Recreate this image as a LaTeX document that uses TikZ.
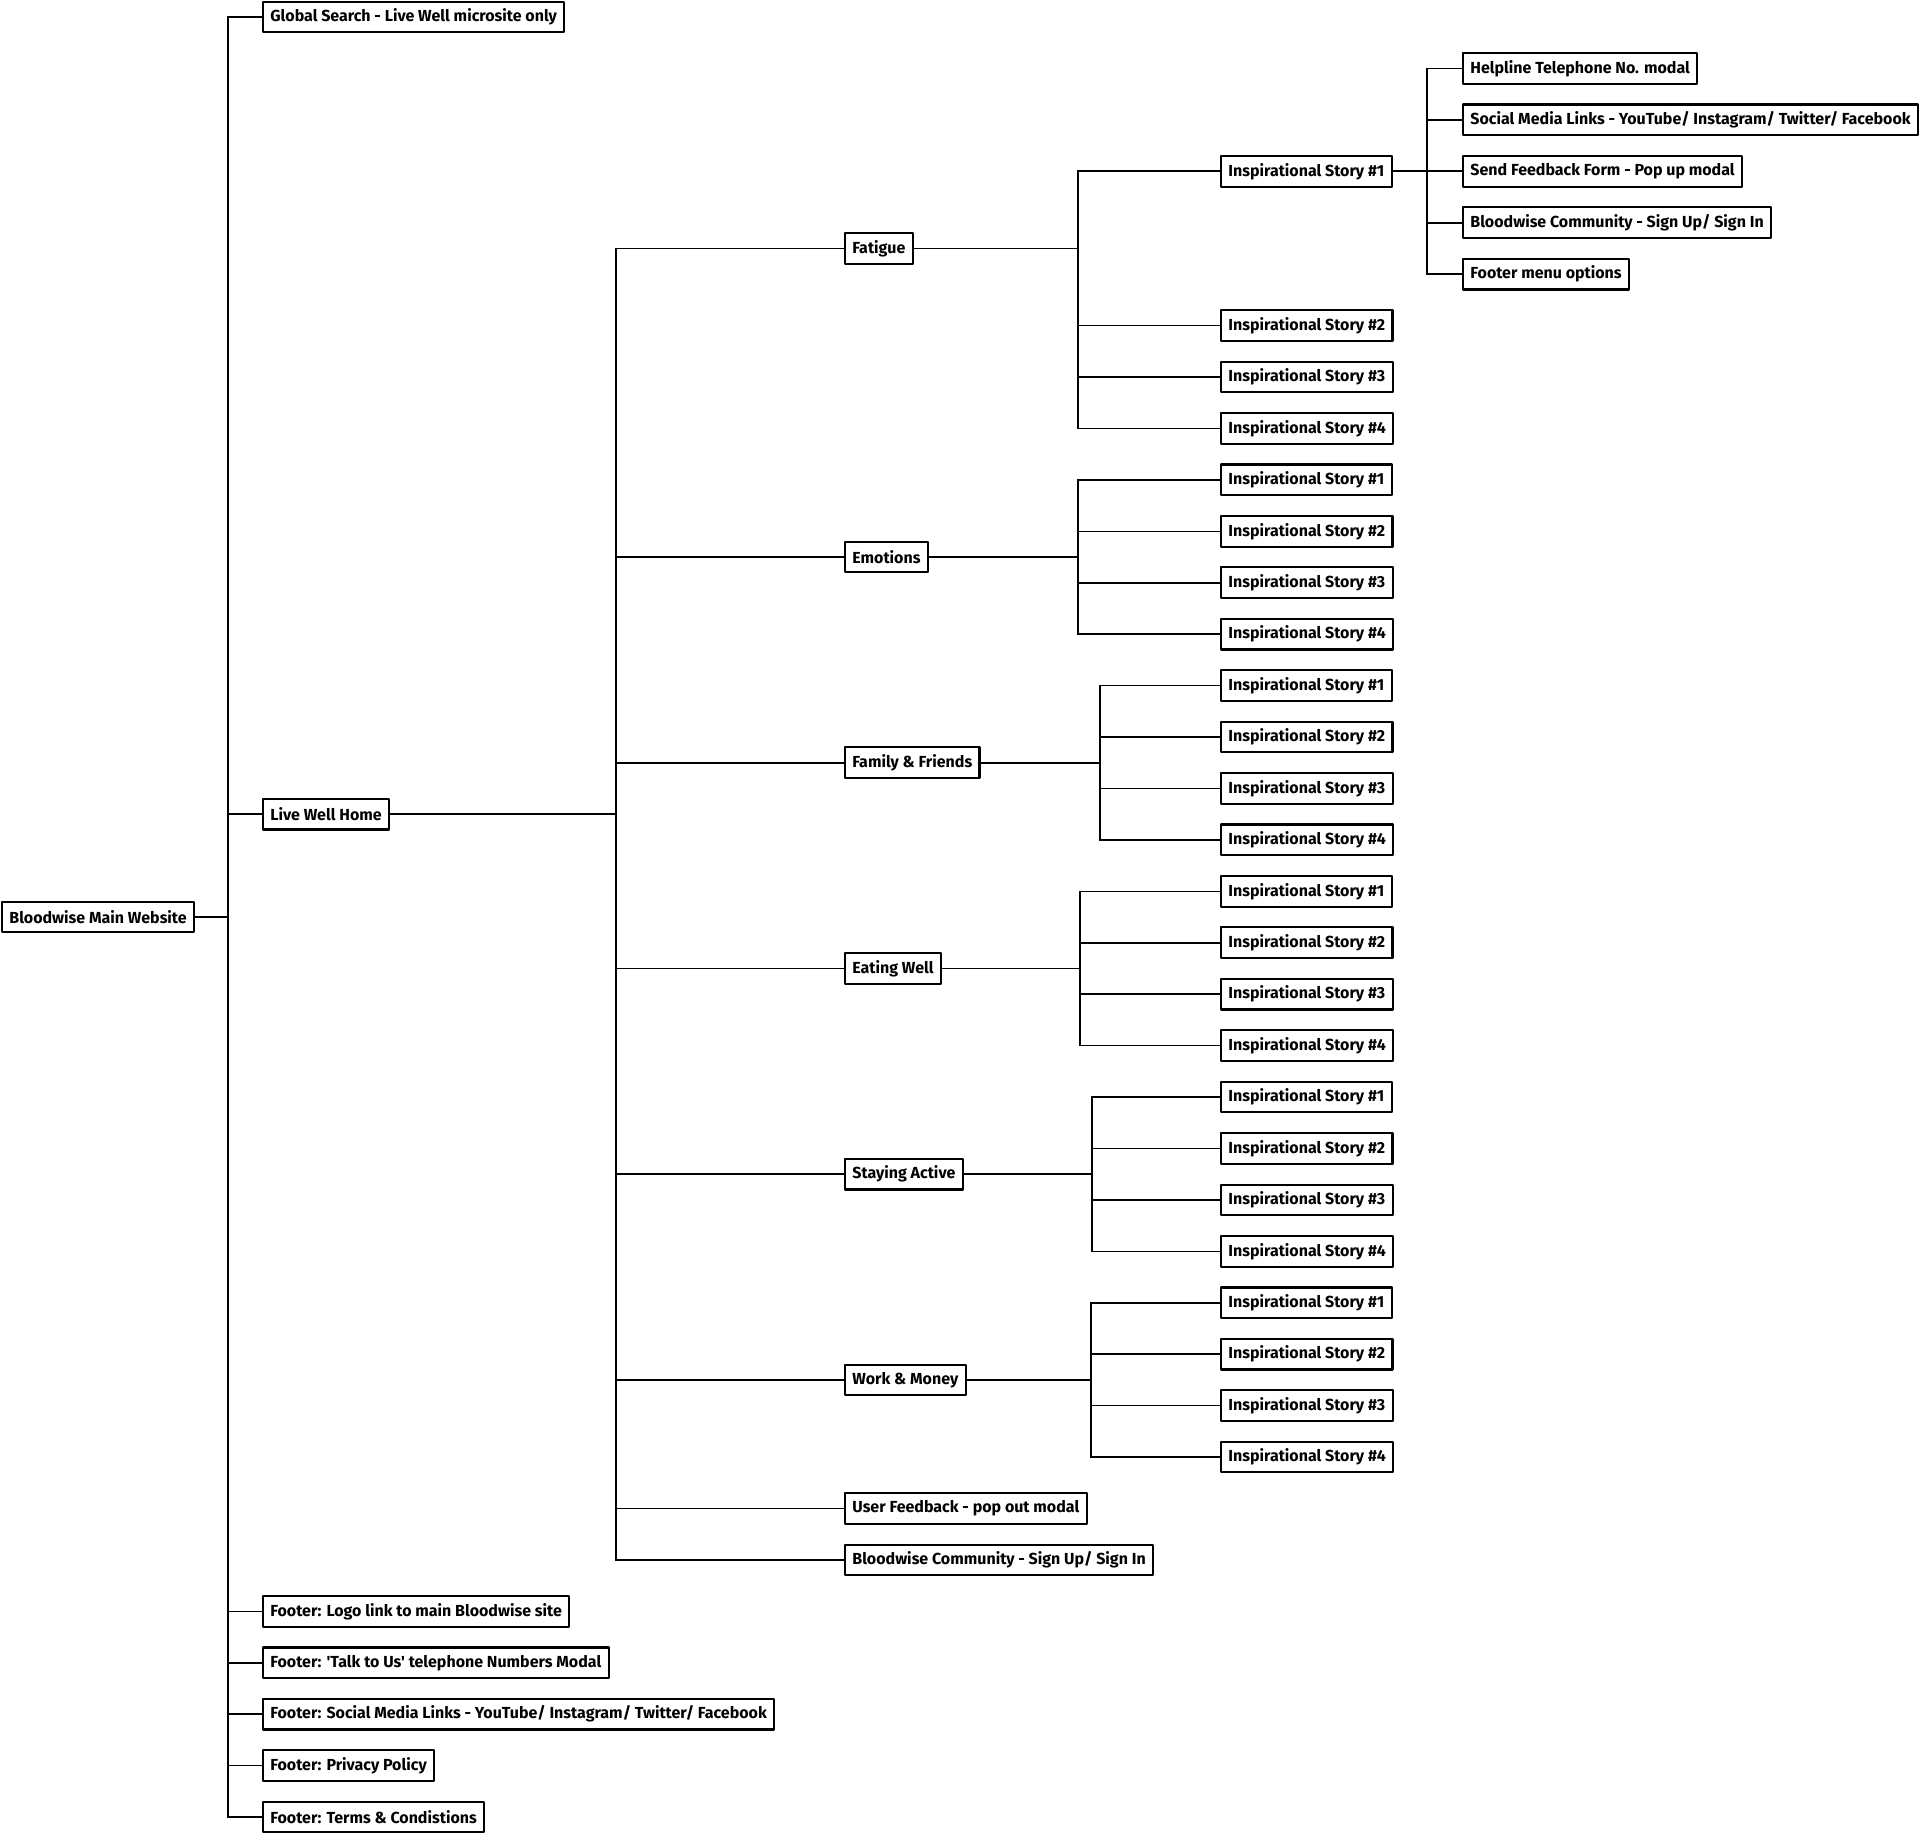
\documentclass[tikz,border=0pt]{standalone}
\usepackage{fontspec}
\setmainfont{Fira Sans}[Ligatures=TeXOff]
\usetikzlibrary{calc}
\def\rr#1{17+51.43*(#1)}
\begin{document}
\begin{tikzpicture}[x=0.75pt,y=-0.75pt,
  box/.style={draw, line width=1.6pt, anchor=west, minimum height=23pt, inner xsep=5.5pt, inner ysep=0pt, font=\fontsize{12}{14}\selectfont\bfseries, fill=white, line join=round},
  conn/.style={line width=1.2pt}]
\useasboundingbox (0,0) rectangle (1920,1836);
% root
\node[box, anchor=west] (root) at (1,{\rr{17.5}}) {Bloodwise Main Website};
% junction coordinates
\coordinate (j1) at (228,0);
\coordinate (j2) at (616,0);
\coordinate (jF) at (1078,0);
\coordinate (jE) at (1078,0);
\coordinate (jFF) at (1100,0);
\coordinate (jEW) at (1080,0);
\coordinate (jSA) at (1092,0);
\coordinate (jWM) at (1091,0);
\coordinate (jS1) at (1427,0);
% level 1
\node[box] (gs) at (262,{\rr{0}}) {Global Search - Live Well microsite only};
\node[box] (lwh) at (262,{\rr{15.5}}) {Live Well Home};
\node[box] (ft1) at (262,{\rr{31}}) {Footer: Logo link to main Bloodwise site};
\node[box] (ft2) at (262,{\rr{32}}) {Footer: 'Talk to Us' telephone Numbers Modal};
\node[box] (ft3) at (262,{\rr{33}}) {Footer: Social Media Links - YouTube/ Instagram/ Twitter/ Facebook};
\node[box] (ft4) at (262,{\rr{34}}) {Footer: Privacy Policy};
\node[box] (ft5) at (262,{\rr{35}}) {Footer: Terms \& Condistions};
% level 2
\node[box] (fat) at (844,{\rr{4.5}}) {Fatigue};
\node[box] (emo) at (844,{\rr{10.5}}) {Emotions};
\node[box] (fam) at (844,{\rr{14.5}}) {Family \& Friends};
\node[box] (eat) at (844,{\rr{18.5}}) {Eating Well};
\node[box] (sta) at (844,{\rr{22.5}}) {Staying Active};
\node[box] (wor) at (844,{\rr{26.5}}) {Work \& Money};
\node[box] (ufb) at (844,{\rr{29}}) {User Feedback - pop out modal};
\node[box] (bwc) at (844,{\rr{30}}) {Bloodwise Community - Sign Up/ Sign In};
% level 3
\node[box] (fat1) at (1220,{\rr{3}}) {Inspirational Story \#1};
\node[box] (fat2) at (1220,{\rr{6}}) {Inspirational Story \#2};
\node[box] (fat3) at (1220,{\rr{7}}) {Inspirational Story \#3};
\node[box] (fat4) at (1220,{\rr{8}}) {Inspirational Story \#4};
\foreach \i in {1,...,4} {
  \node[box] (emo\i) at (1220,{\rr{8+\i}}) {Inspirational Story \#\i};
  \node[box] (fam\i) at (1220,{\rr{12+\i}}) {Inspirational Story \#\i};
  \node[box] (eat\i) at (1220,{\rr{16+\i}}) {Inspirational Story \#\i};
  \node[box] (sta\i) at (1220,{\rr{20+\i}}) {Inspirational Story \#\i};
  \node[box] (wor\i) at (1220,{\rr{24+\i}}) {Inspirational Story \#\i};
}
% level 4
\node[box] (s1a) at (1462,{\rr{1}}) {Helpline Telephone No. modal};
\node[box] (s1b) at (1462,{\rr{2}}) {Social Media Links - YouTube/ Instagram/ Twitter/ Facebook};
\node[box] (s1c) at (1462,{\rr{3}}) {Send Feedback Form - Pop up modal};
\node[box] (s1d) at (1462,{\rr{4}}) {Bloodwise Community - Sign Up/ Sign In};
\node[box] (s1e) at (1462,{\rr{5}}) {Footer menu options};
% connectors
\foreach \c in {gs,lwh,ft1,ft2,ft3,ft4,ft5}
  \draw[conn] (root.east) -- (root.east -| j1) |- (\c.west);
\foreach \c in {fat,emo,fam,eat,sta,wor,ufb,bwc}
  \draw[conn] (lwh.east) -- (lwh.east -| j2) |- (\c.west);
\foreach \i in {1,...,4} {
  \draw[conn] (fat.east) -- (fat.east -| jF) |- (fat\i.west);
  \draw[conn] (emo.east) -- (emo.east -| jE) |- (emo\i.west);
  \draw[conn] (fam.east) -- (fam.east -| jFF) |- (fam\i.west);
  \draw[conn] (eat.east) -- (eat.east -| jEW) |- (eat\i.west);
  \draw[conn] (sta.east) -- (sta.east -| jSA) |- (sta\i.west);
  \draw[conn] (wor.east) -- (wor.east -| jWM) |- (wor\i.west);
}
\foreach \c in {s1a,s1b,s1c,s1d,s1e}
  \draw[conn] (fat1.east) -- (fat1.east -| jS1) |- (\c.west);
\end{tikzpicture}
\end{document}
